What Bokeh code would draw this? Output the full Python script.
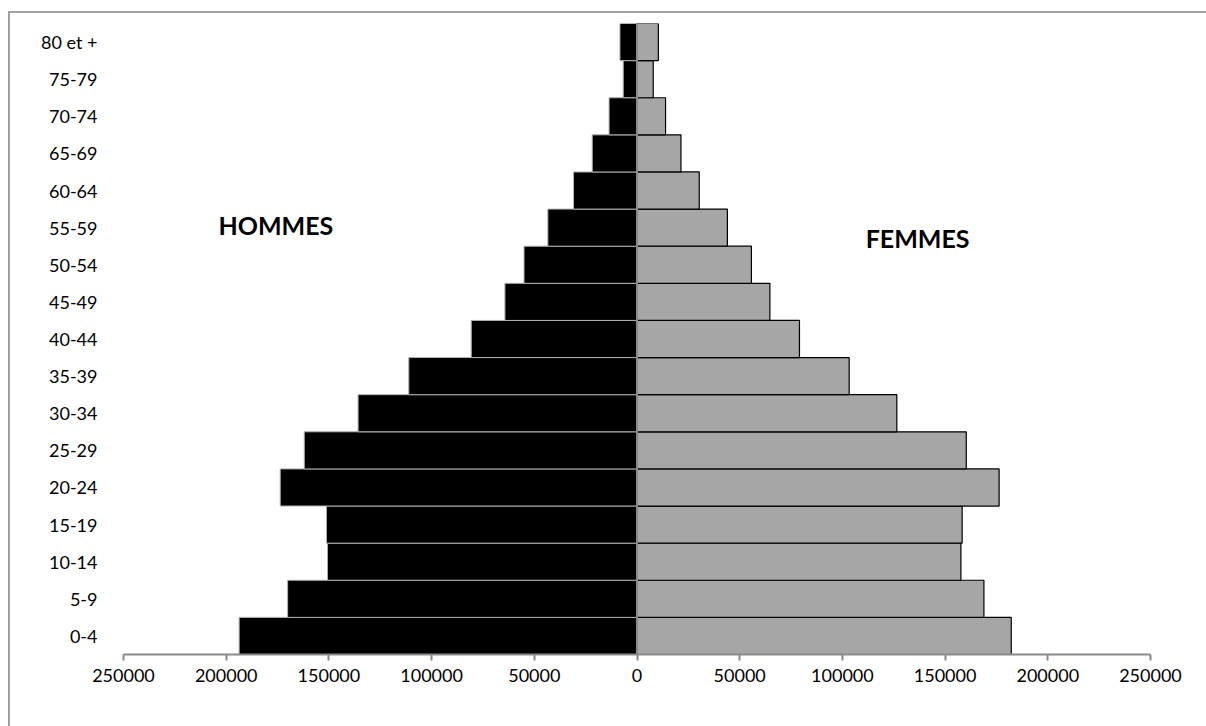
from bokeh.plotting import figure
from bokeh.models import FixedTicker, Span, Label, ColumnDataSource, InlineStyleSheet
from bokeh.embed import file_html
from bokeh.resources import INLINE

# ---- data ----
age_groups = ["0-4", "5-9", "10-14", "15-19", "20-24", "25-29", "30-34", "35-39",
              "40-44", "45-49", "50-54", "55-59", "60-64", "65-69", "70-74", "75-79", "80 et +"]
hommes = [193700, 170100, 150700, 151200, 173700, 162000, 135800, 111100,
          80700, 64300, 55000, 43400, 30900, 21800, 13600, 6700, 8300]
femmes = [182200, 168900, 157700, 158300, 176300, 160300, 126500, 103300,
          79100, 64700, 55700, 44000, 30300, 21400, 13900, 7900, 10400]
tick_values = [-250000, -200000, -150000, -100000, -50000, 0, 50000, 100000, 150000, 200000, 250000]
tick_labels = ["250000", "200000", "150000", "100000", "50000", "0", "50000", "100000", "150000", "200000", "250000"]

FONT = "Lato"

src = ColumnDataSource(dict(
    age=age_groups,
    h_left=[-v for v in hommes],
    zero=[0] * len(age_groups),
    f_right=femmes,
))

border_css = InlineStyleSheet(css="""
:host::before {
  content: "";
  position: absolute;
  left: 8px; top: 11px; right: 0; bottom: 0;
  border-left: 2px solid #a0a0a0;
  border-top: 2px solid #a0a0a0;
  border-right: none;
  border-bottom: none;
  pointer-events: none;
  z-index: 10;
}
""")

p = figure(
    y_range=age_groups, x_range=(-250000, 250000),
    frame_width=1027, frame_height=631,
    min_border_left=123, min_border_right=56, min_border_top=23, min_border_bottom=72,
    output_backend="svg", toolbar_location=None,
    stylesheets=[border_css],
)
p.y_range.range_padding = 0

p.hbar(y="age", left="h_left", right="zero", height=1.0, source=src,
       fill_color="black", line_color="#b0b0b0", line_width=1)
p.hbar(y="age", left="zero", right="f_right", height=1.0, source=src,
       fill_color="#a6a6a6", line_color="black", line_width=1.2)

# central axis line
p.add_layout(Span(location=0, dimension="height", line_color="#8a8a8a", line_width=2))

# axes
p.xgrid.visible = False
p.ygrid.visible = False
p.outline_line_color = None

xa = p.xaxis[0]
xa.ticker = FixedTicker(ticks=tick_values)
xa.major_label_overrides = {v: s for v, s in zip(tick_values, tick_labels)}
xa.axis_line_color = "#8a8a8a"
xa.axis_line_width = 2
xa.major_tick_line_color = "#8a8a8a"
xa.major_tick_line_width = 2
xa.major_tick_in = 0
xa.major_tick_out = 6
xa.minor_tick_line_color = None
xa.major_label_text_font = FONT
xa.major_label_text_font_size = "18px"
xa.major_label_text_color = "black"
xa.major_label_standoff = 8

ya = p.yaxis[0]
ya.axis_line_color = None
ya.major_tick_line_color = None
ya.minor_tick_line_color = None
ya.major_label_text_font = FONT
ya.major_label_text_font_size = "18px"
ya.major_label_text_color = "black"
ya.major_label_standoff = 20

p.add_layout(Label(x=-175800, y=11.58, text="HOMMES", text_font=FONT, text_font_style="bold",
                   text_font_size="25px", text_color="black",
                   text_align="center", text_baseline="middle"))
p.add_layout(Label(x=136600, y=11.23, text="FEMMES", text_font=FONT, text_font_style="bold",
                   text_font_size="25px", text_color="black",
                   text_align="center", text_baseline="middle"))

open("out.html", "w").write(file_html(p, INLINE))
